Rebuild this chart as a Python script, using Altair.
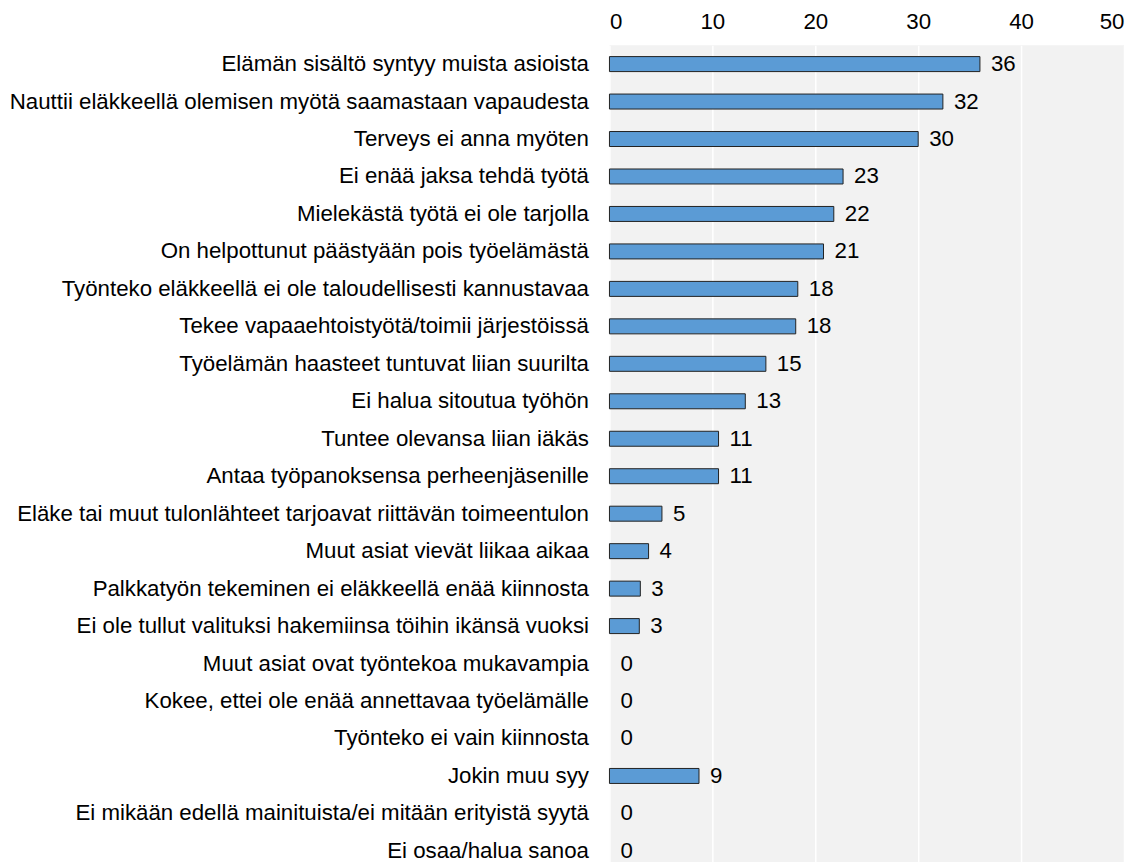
import altair as alt
import pandas as pd

categories = [
    "Elämän sisältö syntyy muista asioista",
    "Nauttii eläkkeellä olemisen myötä saamastaan vapaudesta",
    "Terveys ei anna myöten",
    "Ei enää jaksa tehdä työtä",
    "Mielekästä työtä ei ole tarjolla",
    "On helpottunut päästyään pois työelämästä",
    "Työnteko eläkkeellä ei ole taloudellisesti kannustavaa",
    "Tekee vapaaehtoistyötä/toimii järjestöissä",
    "Työelämän haasteet tuntuvat liian suurilta",
    "Ei halua sitoutua työhön",
    "Tuntee olevansa liian iäkäs",
    "Antaa työpanoksensa perheenjäsenille",
    "Eläke tai muut tulonlähteet tarjoavat riittävän toimeentulon",
    "Muut asiat vievät liikaa aikaa",
    "Palkkatyön tekeminen ei eläkkeellä enää kiinnosta",
    "Ei ole tullut valituksi hakemiinsa töihin ikänsä vuoksi",
    "Muut asiat ovat työntekoa mukavampia",
    "Kokee, ettei ole enää annettavaa työelämälle",
    "Työnteko ei vain kiinnosta",
    "Jokin muu syy",
    "Ei mikään edellä mainituista/ei mitään erityistä syytä",
    "Ei osaa/halua sanoa",
]
values = [36.0, 32.4, 30.0, 22.7, 21.8, 20.8, 18.3, 18.1, 15.2, 13.2, 10.6, 10.6,
          5.1, 3.8, 3.0, 2.9, 0, 0, 0, 8.7, 0, 0]

df = pd.DataFrame({"category": categories, "value": values})

FONT = "Liberation Sans"
FS = 22.3

y = alt.Y("category:N", sort=categories, title=None,
          axis=alt.Axis(labelFontSize=FS, labelColor="#000", labelPadding=21,
                        ticks=False, domain=False, labelLimit=800, labelFont=FONT))
x = alt.X("value:Q", title=None,
          scale=alt.Scale(domain=[0, 50], nice=False),
          axis=alt.Axis(orient="top", values=[0, 10, 20, 30, 40, 50], labelFontSize=FS,
                        labelColor="#000", ticks=False, domain=False, labelPadding=12,
                        grid=True, gridColor="#ffffff", gridWidth=1.5, labelFont=FONT))

bars = alt.Chart(df).mark_bar(size=15, color="#5b9bd5", stroke="#222222", strokeWidth=1).encode(
    x=x, y=y
).transform_filter("datum.value > 0")

labels = alt.Chart(df).mark_text(align="left", baseline="middle", dx=11, fontSize=FS,
                                 font=FONT, color="#000").encode(
    x=alt.X("value:Q"), y=alt.Y("category:N", sort=categories),
    text=alt.Text("value:Q", format=".0f")
)

chart = alt.layer(bars, labels).properties(
    width=515, height=825,
    padding={"left": 0, "top": 2, "right": 5, "bottom": 5},
    view=alt.ViewBackground(fill="#f2f2f2", stroke=None)
).configure_view(fill="#f2f2f2", strokeWidth=0).configure(font=FONT)

chart.save("out.html", embed_options={"renderer": "svg", "actions": False})
